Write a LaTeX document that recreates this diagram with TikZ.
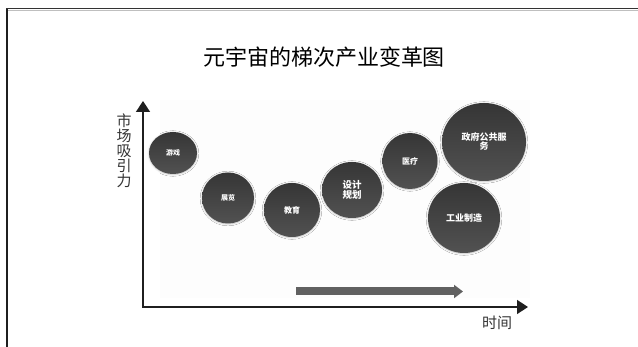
\documentclass[tikz,border=0pt]{standalone}
\usepackage{fontspec}
\setmainfont{Noto Sans CJK SC}
\usetikzlibrary{shapes.geometric,shadows.blur,arrows.meta}
\tikzset{
  bubble/.style={ellipse, inner sep=0pt, top color=black!79, bottom color=black!68,
    text=white, font=\bfseries, align=center,
    blur shadow={shadow xshift=0pt, shadow yshift=-0.5pt, shadow blur radius=1.8pt, shadow opacity=25}},
  axis/.style={line width=1.6pt, color=black!88, -{Triangle[width=14pt,length=11pt]}},
  trend/.style={line width=8pt, color=black!62, -{Triangle[width=13pt,length=9pt]}},
  frameline/.style={line width=1.8pt, color=black!88},
}
\newcommand{\fs}[1]{\fontsize{#1}{#1}\selectfont}
\begin{document}
\begin{tikzpicture}[x=1pt,y=-1pt]
\useasboundingbox (0,0) rectangle (638,347);
% frame
\draw[frameline] (7,347) -- (7,8);
\draw[line width=1.2pt, black!80] (6.1,8.5) -- (638,8.5);
\draw[line width=0.8pt, black!25] (8,10.3) -- (638,10.3);
% faint panel
\fill[black!0.8] (160,100) rectangle (530,298);
% title
\node (title) at (324,57) {\fs{22}元宇宙的梯次产业变革图};
% axes
\coordinate (O) at (143,307);
\coordinate (ytip) at (143,101);
\coordinate (xtip) at (528,307);
\draw[axis] (O) -- (ytip);
\draw[axis] ([xshift=-0.8pt]O) -- (xtip);
\node[align=center, font=\fs{15}, text=black!80, inner sep=0pt] (ylab) at (124,150.5)
  {市\\[0pt]场\\[0pt]吸\\[0pt]引\\[0pt]力};
\node[font=\fs{15}, text=black!80, inner sep=0pt] (xlab) at (497,323) {时间};
% trend arrow
\coordinate (t0) at (296,291.5);
\coordinate (t1) at (463,291.5);
\draw[trend] (t0) -- (t1);
% bubbles
\node[bubble, minimum width=48pt, minimum height=42pt, font=\bfseries\fs{7}] (b1) at (173,153) {游戏};
\node[bubble, minimum width=52pt, minimum height=51pt, font=\bfseries\fs{7}] (b2) at (228,198) {展览};
\node[bubble, minimum width=56pt, minimum height=54pt, font=\bfseries\fs{8}] (b3) at (292,210) {教育};
\node[bubble, minimum width=60pt, minimum height=56pt, font=\bfseries\fs{9.5}, align=center] (b4) at (352,190) {\fontsize{9.5}{11}\selectfont 设计\\规划};
\node[bubble, minimum width=55pt, minimum height=56pt, font=\bfseries\fs{8}] (b5) at (410,161) {医疗};
\node[bubble, minimum width=84pt, minimum height=78pt, font=\bfseries\fs{9}, align=center] (b6) at (484,142) {\fontsize{9}{11}\selectfont 政府公共服\\务};
\node[bubble, minimum width=72pt, minimum height=70pt, font=\bfseries\fs{9}] (b7) at (464,218) {工业制造};
\end{tikzpicture}
\end{document}
